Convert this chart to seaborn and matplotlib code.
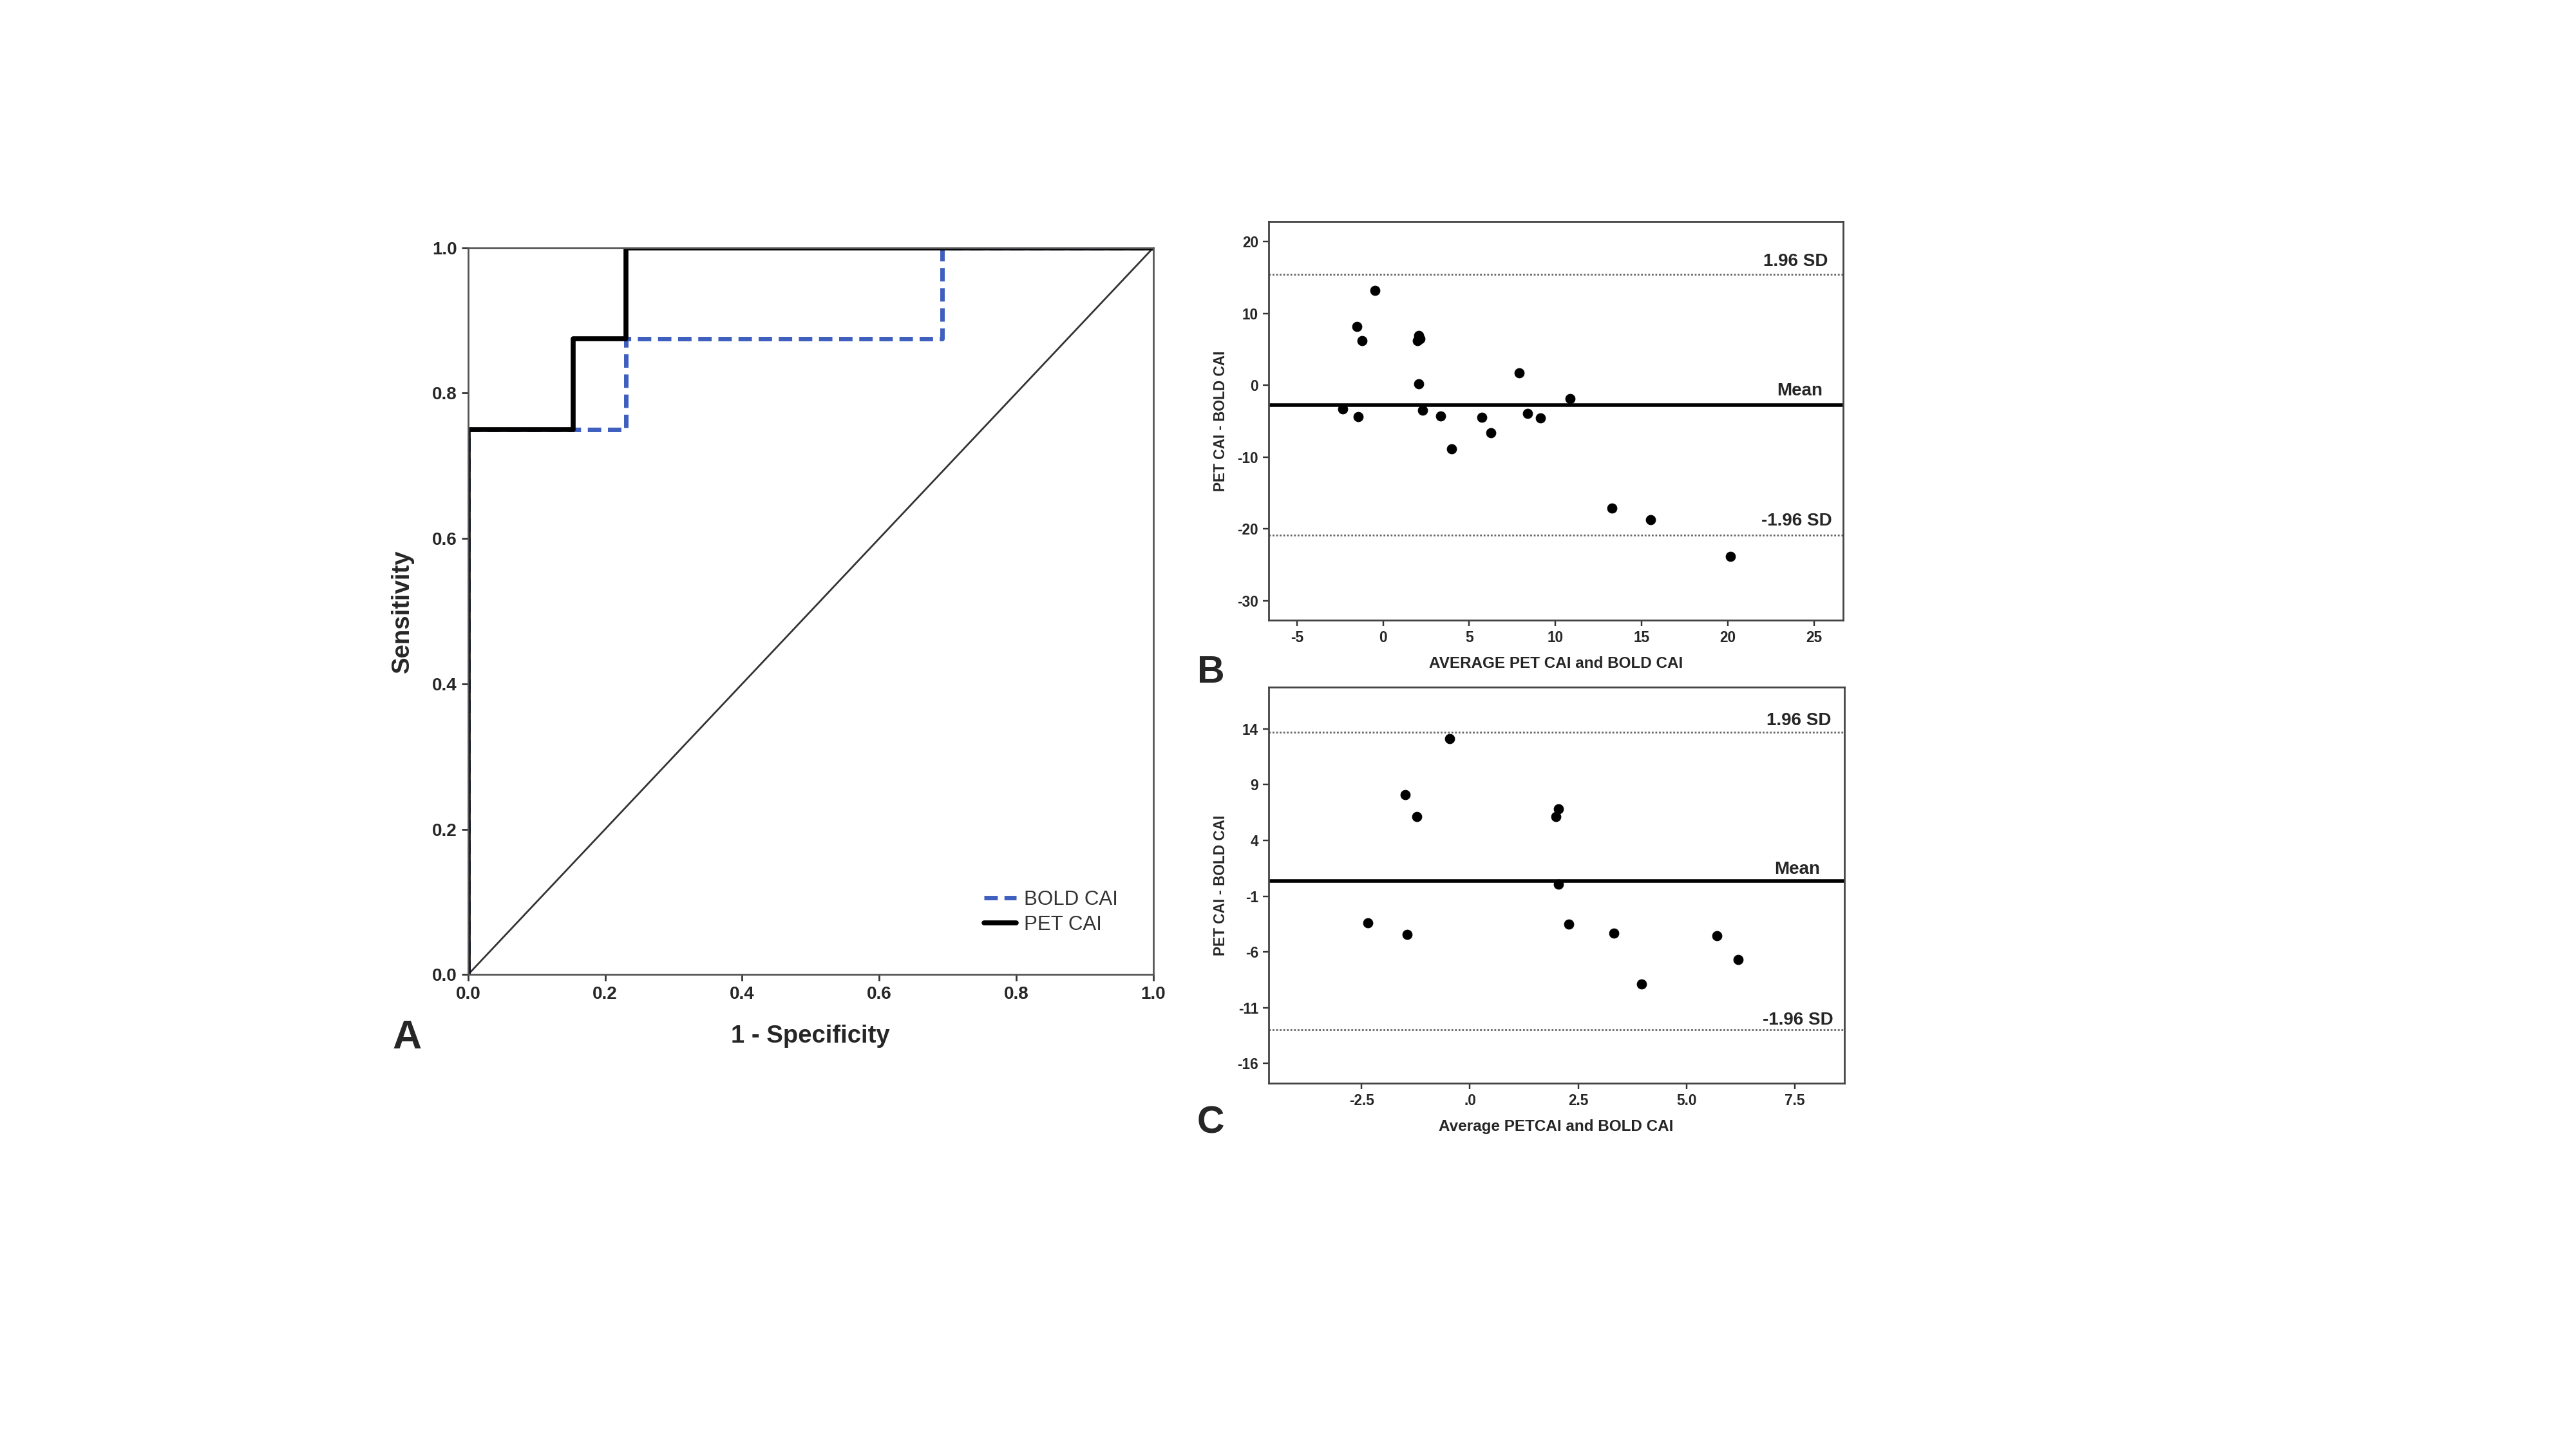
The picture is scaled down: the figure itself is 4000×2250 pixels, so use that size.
import matplotlib
matplotlib.use("Agg")
import matplotlib.pyplot as plt
import seaborn as sns

# ROC curve points (1 - specificity, sensitivity)
bold_fpr = [0.0, 0.0, 3/13, 3/13, 9/13, 9/13, 1.0]
bold_tpr = [0.0, 0.75, 0.75, 0.875, 0.875, 1.0, 1.0]
pet_fpr = [0.0, 0.0, 2/13, 2/13, 3/13, 3/13, 1.0]
pet_tpr = [0.0, 0.75, 0.75, 0.875, 0.875, 1.0, 1.0]

# Bland-Altman, all subjects (panel B)
b_avg = [-2.35, -1.50, -1.46, -1.21, -0.46, 1.99, 2.06, 2.16, 2.06, 2.31, 3.33,
         3.98, 5.73, 6.24, 7.89, 8.37, 9.13, 10.83, 13.28, 15.51, 20.15]
b_diff = [-3.35, 8.15, -4.39, 6.16, 13.2, 6.16, 6.91, 6.5, 0.17, -3.48, -4.26,
          -8.85, -4.51, -6.66, 1.74, -3.93, -4.55, -1.90, -17.13, -18.7, -23.83]
b_mean, b_upper, b_lower = -2.77, 15.45, -20.9

# Bland-Altman, subset (panel C)
c_avg = [-2.35, -1.49, -1.45, -1.22, -0.47, 1.99, 2.05, 2.05, 2.29, 3.32, 3.97, 5.70, 6.20]
c_diff = [-3.39, 8.11, -4.44, 6.15, 13.14, 6.12, 6.85, 0.10, -3.5, -4.31, -8.88, -4.52, -6.70]
c_mean, c_upper, c_lower = 0.37, 13.70, -12.96

roc_ticks = [0.0, 0.2, 0.4, 0.6, 0.8, 1.0]
b_xticks = [-5, 0, 5, 10, 15, 20, 25]
b_yticks = [20, 10, 0, -10, -20, -30]
c_xticks = [-2.5, 0.0, 2.5, 5.0, 7.5]
c_xlabels = ["-2.5", ".0", "2.5", "5.0", "7.5"]
c_yticks = [14, 9, 4, -1, -6, -11, -16]

sns.set_theme(style="ticks")
plt.rcParams['font.family'] = ['Liberation Sans', 'DejaVu Sans']
narrow = ['Liberation Sans Narrow', 'Liberation Sans', 'DejaVu Sans']
frame_col = '#555555'

fig = plt.figure(figsize=(16, 9), dpi=250)
fig.patch.set_facecolor('white')

# ---- Panel A: ROC ----
axA = fig.add_axes([0.1817, 0.3274, 0.266, 0.5016])
axA.plot([0, 1], [0, 1], color='#333333', linewidth=0.8)
sns.lineplot(x=bold_fpr, y=bold_tpr, sort=False, estimator=None, ax=axA,
             color='#3F5FBF', linewidth=2.0, linestyle=(0, (3, 1.5)), label='BOLD CAI')
sns.lineplot(x=pet_fpr, y=pet_tpr, sort=False, estimator=None, ax=axA,
             color='black', linewidth=2.2, label='PET CAI')
axA.set_xlim(0, 1)
axA.set_ylim(0, 1)
axA.set_xticks(roc_ticks)
axA.set_yticks(roc_ticks)
axA.set_xticklabels([f"{t:.1f}" for t in roc_ticks], fontsize=8, fontweight='bold')
axA.set_yticklabels([f"{t:.1f}" for t in roc_ticks], fontsize=8, fontweight='bold')
axA.set_xlabel('1 - Specificity', fontsize=11, fontweight='bold', labelpad=10)
axA.set_ylabel('Sensitivity', fontsize=11, fontweight='bold', labelpad=8)
for s in axA.spines.values():
    s.set_color(frame_col)
    s.set_linewidth(0.8)
axA.tick_params(direction='out', length=3, width=0.8, color='#333333', pad=2)
leg = axA.legend(loc='lower right', bbox_to_anchor=(0.975, 0.03), frameon=False,
                 fontsize=9, handlelength=1.6, handletextpad=0.4, labelspacing=0.3)
for t in leg.get_texts():
    t.set_color('#333333')

# ---- Bland-Altman helper ----
def bland_altman(ax, avg, diff, mean, upper, lower, xlim, ylim, xticks, yticks,
                 xlabel, label_x, label_ys, xticklabels=None):
    sns.scatterplot(x=avg, y=diff, ax=ax, color='black', s=18, edgecolor='black',
                    linewidth=0.3, zorder=3)
    ax.axhline(mean, color='black', linewidth=1.6)
    ax.axhline(upper, color='#666666', linewidth=0.8, linestyle=(0, (1, 1)))
    ax.axhline(lower, color='#666666', linewidth=0.8, linestyle=(0, (1, 1)))
    for txt, xx, yy in zip(['1.96 SD', 'Mean', '-1.96 SD'], label_x, label_ys):
        ax.text(xx, yy, txt, ha='right', va='center', fontsize=8,
                fontweight='bold', family=narrow)
    ax.set_xlim(*xlim)
    ax.set_ylim(*ylim)
    ax.set_xticks(xticks)
    ax.set_yticks(yticks)
    if xticklabels is None:
        xticklabels = [str(t) for t in xticks]
    ax.set_xticklabels(xticklabels, fontsize=6.5, fontweight='bold', family=narrow)
    ax.set_yticklabels([str(t) for t in yticks], fontsize=6.5, fontweight='bold', family=narrow)
    ax.set_xlabel(xlabel, fontsize=7, fontweight='bold', labelpad=5)
    ax.set_ylabel('PET CAI - BOLD CAI', fontsize=6.5, fontweight='bold', labelpad=4)
    for s in ax.spines.values():
        s.set_color('#444444')
        s.set_linewidth(0.8)
    ax.tick_params(direction='out', length=2.5, width=0.7, color='#333333', pad=2)

axB = fig.add_axes([0.4924, 0.572, 0.2232, 0.275])
bland_altman(axB, b_avg, b_diff, b_mean, b_upper, b_lower,
             (-6.65, 26.7), (-32.73, 22.77), b_xticks, b_yticks,
             'AVERAGE PET CAI and BOLD CAI', [25.8, 25.5, 26.05], [17.25, -0.8, -18.9])

axC = fig.add_axes([0.4924, 0.2524, 0.2235, 0.2735])
bland_altman(axC, c_avg, c_diff, c_mean, c_upper, c_lower,
             (-4.65, 8.64), (-17.77, 17.76), c_xticks, c_yticks,
             'Average PETCAI and BOLD CAI', [8.34, 8.08, 8.39], [14.75, 1.39, -12.08],
             xticklabels=c_xlabels)

# Panel letters
fig.text(0.158, 0.284, 'A', fontsize=18, fontweight='bold', ha='center', va='center')
fig.text(0.470, 0.536, 'B', fontsize=17, fontweight='bold', ha='center', va='center')
fig.text(0.470, 0.225, 'C', fontsize=17, fontweight='bold', ha='center', va='center')

plt.savefig('out.png', dpi=250, facecolor='white')
